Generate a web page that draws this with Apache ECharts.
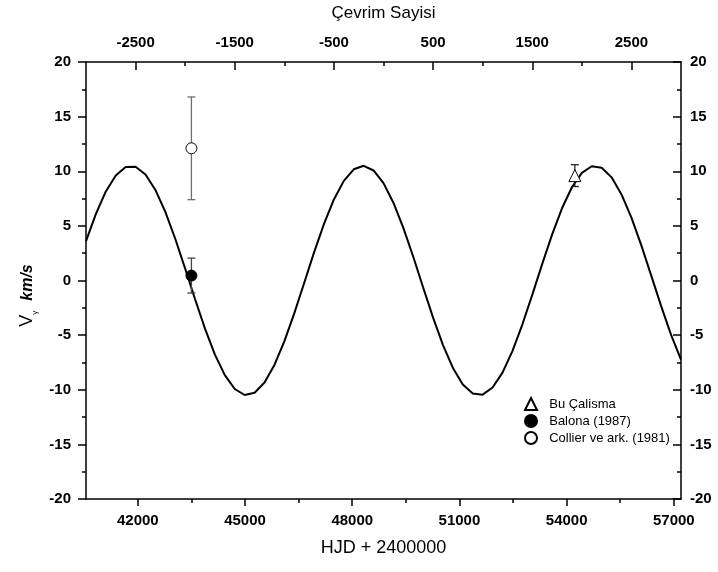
<!DOCTYPE html>
<html>
<head>
<meta charset="utf-8">
<script src="https://cdn.jsdelivr.net/npm/echarts@6/dist/echarts.min.js"></script>
<style>html,body{margin:0;padding:0;background:#fff}#c{width:718px;height:572px}</style>
</head>
<body>
<div id="c"></div>
<script>
// Fitted curve: HJD - 2400000 and V_gamma (km/s)
const curveHJD = [40550, 40827.5, 41105, 41382.5, 41660, 41937.5, 42215, 42492.5, 42770, 43047.5,
  43325, 43602.5, 43880, 44157.5, 44435, 44712.5, 44990, 45267.5, 45545, 45822.5,
  46100, 46377.5, 46655, 46932.5, 47210, 47487.5, 47765, 48042.5, 48320, 48597.5,
  48875, 49152.5, 49430, 49707.5, 49985, 50262.5, 50540, 50817.5, 51095, 51372.5,
  51650, 51927.5, 52205, 52482.5, 52760, 53037.5, 53315, 53592.5, 53870, 54147.5,
  54425, 54702.5, 54980, 55257.5, 55535, 55812.5, 56090, 56367.5, 56645, 56922.5, 57200];
const curveV = [3.61, 6.10, 8.15, 9.61, 10.39, 10.42, 9.70, 8.29, 6.28, 3.82,
  1.09, -1.72, -4.41, -6.78, -8.66, -9.93, -10.48, -10.28, -9.34, -7.73,
  -5.57, -3.01, -0.23, 2.57, 5.18, 7.42, 9.12, 10.18, 10.50, 10.07,
  8.91, 7.12, 4.82, 2.17, -0.64, -3.40, -5.91, -8.00, -9.52, -10.35,
  -10.45, -9.79, -8.43, -6.46, -4.03, -1.32, 1.50, 4.20, 6.61, 8.54,
  9.85, 10.46, 10.32, 9.44, 7.88, 5.76, 3.22, 0.45, -2.35, -4.98, -7.25];

// Observations: [HJD, V, error]
const buCalisma = [[54230, 9.6, 1.0]];
const balona = [[43500, 0.45, 1.6]];
const collier = [[43500, 12.1, 4.7]];

// Tick values
const hjdMajor = [42000, 45000, 48000, 51000, 54000, 57000];
const hjdMinor = [43500, 46500, 49500, 52500, 55500];
const cycleMajor = [-2500, -1500, -500, 500, 1500, 2500];
const cycleMinor = [-2000, -1000, 0, 1000, 2000];

const FONT = "'Liberation Sans', Arial, sans-serif";
const chart = echarts.init(document.getElementById('c'), null, {renderer: 'canvas'});

function errBar(color) {
  return function (params, api) {
    const x = api.value(0), lo = api.value(1), hi = api.value(2);
    const a = api.coord([x, lo]), b = api.coord([x, hi]);
    const w = 4;
    const st = {stroke: color, lineWidth: 1.3};
    return {type: 'group', children: [
      {type: 'line', shape: {x1: a[0], y1: a[1], x2: b[0], y2: b[1]}, style: st},
      {type: 'line', shape: {x1: a[0] - w, y1: a[1], x2: a[0] + w, y2: a[1]}, style: st},
      {type: 'line', shape: {x1: b[0] - w, y1: b[1], x2: b[0] + w, y2: b[1]}, style: st}
    ]};
  };
}
const toErr = arr => arr.map(d => [d[0], d[1] - d[2], d[1] + d[2]]);
const toPt = arr => arr.map(d => [d[0], d[1]]);

const axisLineStyle = {show: true, onZero: false, lineStyle: {color: '#000', width: 1.5}};
const plain = v => String(v);
const tickLabel = {color: '#000', fontFamily: FONT, fontWeight: 'bold', fontSize: 15, formatter: plain};

chart.setOption({
  animation: false,
  backgroundColor: '#fff',
  grid: {left: 86, right: 37, top: 62, bottom: 73, containLabel: false},
  legend: {
    orient: 'vertical', left: 519, top: 392, itemGap: 3, itemWidth: 12, itemHeight: 12,
    textStyle: {fontFamily: FONT, fontSize: 13, color: '#000'},
    formatter: name => '  ' + name,
    data: ['Bu Çalisma', 'Balona (1987)', 'Collier ve ark. (1981)']
  },
  xAxis: [
    {type: 'value', position: 'bottom', min: 40550, max: 57200,
     name: 'HJD + 2400000', nameLocation: 'middle', nameGap: 40,
     nameTextStyle: {fontFamily: FONT, fontSize: 18, color: '#000'},
     axisLine: axisLineStyle,
     axisTick: {show: true, inside: false, length: 7, customValues: hjdMajor, lineStyle: {color: '#000', width: 1.5}},
     axisLabel: Object.assign({margin: 14, customValues: hjdMajor}, tickLabel),
     splitLine: {show: false}},
    {type: 'value', position: 'top', min: -3000, max: 3000,
     name: 'Çevrim Sayisi', nameLocation: 'middle', nameGap: 40,
     nameTextStyle: {fontFamily: FONT, fontSize: 17, color: '#000'},
     axisLine: axisLineStyle,
     axisTick: {show: true, inside: true, length: 8, customValues: cycleMajor, lineStyle: {color: '#000', width: 1.5}},
     axisLabel: Object.assign({margin: 12, customValues: cycleMajor}, tickLabel),
     splitLine: {show: false}},
    {type: 'value', position: 'bottom', min: 40550, max: 57200,
     axisLine: {show: false, onZero: false},
     axisTick: {show: true, inside: false, length: 4, customValues: hjdMinor, lineStyle: {color: '#000', width: 1.5}},
     axisLabel: {show: false}, splitLine: {show: false}},
    {type: 'value', position: 'top', min: -3000, max: 3000,
     axisLine: {show: false, onZero: false},
     axisTick: {show: true, inside: true, length: 4, customValues: cycleMinor, lineStyle: {color: '#000', width: 1.5}},
     axisLabel: {show: false}, splitLine: {show: false}}
  ],
  yAxis: [
    {type: 'value', position: 'left', min: -20, max: 20, interval: 5,
     name: '{v|V}{g|γ}   {k|km/s}{p|}', nameLocation: 'middle', nameGap: 46, nameRotate: 90,
     nameTextStyle: {color: '#000', fontFamily: FONT,
       rich: {
         v: {fontSize: 18, fontFamily: FONT, color: '#000', lineHeight: 22, verticalAlign: 'middle'},
         g: {fontSize: 8, fontFamily: FONT, color: '#000', lineHeight: 22, verticalAlign: 'bottom'},
         k: {fontSize: 16, fontFamily: FONT, fontWeight: 'bold', fontStyle: 'italic', color: '#000', lineHeight: 22, verticalAlign: 'middle'},
         p: {width: 30}
       }},
     axisLine: axisLineStyle,
     axisTick: {show: true, inside: false, length: 8, lineStyle: {color: '#000', width: 1.5}},
     minorTick: {show: true, splitNumber: 2, length: 4, lineStyle: {color: '#000', width: 1.5}},
     axisLabel: Object.assign({margin: 15}, tickLabel),
     splitLine: {show: false}},
    {type: 'value', position: 'right', min: -20, max: 20, interval: 5,
     axisLine: axisLineStyle,
     axisTick: {show: true, inside: true, length: 8, lineStyle: {color: '#000', width: 1.5}},
     minorTick: {show: true, splitNumber: 2, length: 4, lineStyle: {color: '#000', width: 1.5}},
     axisLabel: Object.assign({margin: 9}, tickLabel),
     splitLine: {show: false}}
  ],
  series: [
    {type: 'line', xAxisIndex: 0, yAxisIndex: 0, data: curveHJD.map((x, i) => [x, curveV[i]]),
     showSymbol: false, symbol: 'none', lineStyle: {color: '#000', width: 2}, z: 2, silent: true},
    {type: 'custom', xAxisIndex: 0, yAxisIndex: 0, data: toErr(collier), renderItem: errBar('#6e6e6e'), z: 3, silent: true},
    {type: 'custom', xAxisIndex: 0, yAxisIndex: 0, data: toErr(balona), renderItem: errBar('#444'), z: 3, silent: true},
    {type: 'custom', xAxisIndex: 0, yAxisIndex: 0, data: toErr(buCalisma), renderItem: errBar('#222'), z: 3, silent: true},
    {name: 'Bu Çalisma', type: 'scatter', data: toPt(buCalisma), symbol: 'triangle', symbolSize: 12,
     itemStyle: {color: '#fff', borderColor: '#000', borderWidth: 1, opacity: 1}, z: 5},
    {name: 'Balona (1987)', type: 'scatter', data: toPt(balona), symbol: 'circle', symbolSize: 11,
     itemStyle: {color: '#000', borderColor: '#000', borderWidth: 1, opacity: 1}, z: 5},
    {name: 'Collier ve ark. (1981)', type: 'scatter', data: toPt(collier), symbol: 'circle', symbolSize: 11,
     itemStyle: {color: '#fff', borderColor: '#000', borderWidth: 1, opacity: 1}, z: 5}
  ]
});
</script>
</body>
</html>
